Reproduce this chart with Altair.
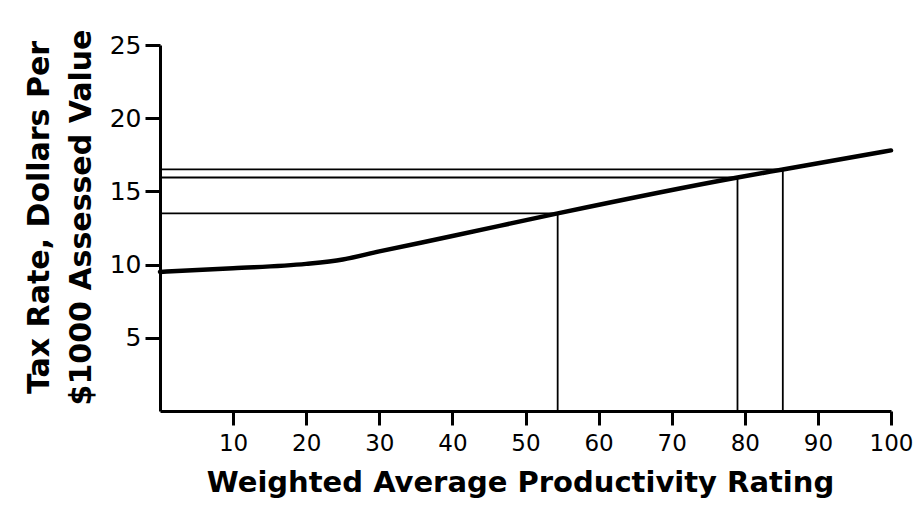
import altair as alt
import pandas as pd

# Curve: tax rate vs weighted average productivity rating
curve_x = [0, 10, 20, 25, 30, 40, 54.4, 79.0, 85.2, 100]
curve_y = [9.5, 9.75, 10.05, 10.35, 10.9, 11.95, 13.5, 15.95, 16.5, 17.8]

# Read-off guide lines (rating -> tax rate)
guide_x = [54.4, 79.0, 85.2]
guide_y = [13.5, 15.95, 16.5]

x_ticks = [10, 20, 30, 40, 50, 60, 70, 80, 90, 100]
y_ticks = [5, 10, 15, 20, 25]

x_title = "Weighted Average Productivity Rating"
y_title = ["Tax Rate, Dollars Per", "$1000 Assessed Value"]

curve_df = pd.DataFrame({"x": curve_x, "y": curve_y})
guide_df = pd.DataFrame({"gx": guide_x, "gy": guide_y, "zero": [0] * len(guide_x)})

FONT = "DejaVu Sans"

x_scale = alt.Scale(domain=[0, 100], nice=False)
y_scale = alt.Scale(domain=[0, 25], nice=False)

x_axis = alt.Axis(
    values=x_ticks, title=x_title, grid=False, labelFlush=False,
    domainColor="black", domainWidth=3, tickColor="black", tickWidth=3, tickSize=14,
    labelFont=FONT, labelFontSize=23, labelColor="black", labelPadding=7,
    titleFont=FONT, titleFontSize=29, titleFontWeight="bold", titleColor="black",
    titleX=360, titleY=80, titleBaseline="alphabetic", titleAnchor="middle",
)
y_axis = alt.Axis(
    values=y_ticks, title=y_title, grid=False, labelFlush=False,
    domainColor="black", domainWidth=3, tickColor="black", tickWidth=3, tickSize=15,
    labelFont=FONT, labelFontSize=25, labelColor="black", labelPadding=4,
    titleFont=FONT, titleFontSize=30, titleFontWeight="bold", titleColor="black",
    titleAngle=270, titleX=-121, titleY=172, titleBaseline="middle", titleAlign="center",
    titleLineHeight=42,
)

line = alt.Chart(curve_df).mark_line(
    color="black", strokeWidth=4.5, interpolate="monotone", strokeCap="round", clip=False
).encode(
    x=alt.X("x:Q", scale=x_scale, axis=x_axis),
    y=alt.Y("y:Q", scale=y_scale, axis=y_axis),
)

hrules = alt.Chart(guide_df).mark_rule(color="black", strokeWidth=1.8).encode(
    x=alt.X("zero:Q", scale=x_scale),
    x2="gx:Q",
    y=alt.Y("gy:Q", scale=y_scale),
)

vrules = alt.Chart(guide_df).mark_rule(color="black", strokeWidth=1.8).encode(
    x=alt.X("gx:Q", scale=x_scale),
    y=alt.Y("zero:Q", scale=y_scale),
    y2="gy:Q",
)

chart = alt.layer(hrules, vrules, line).properties(
    width=731, height=366,
    autosize=alt.AutoSizeParams(type="none"),
    padding={"left": 152, "top": 37, "right": 23, "bottom": 91},
).configure(
    background="white",
    view=alt.ViewConfig(stroke="transparent", strokeWidth=0),
)

chart.save("out.html", embed_options={"renderer": "svg", "actions": False})
